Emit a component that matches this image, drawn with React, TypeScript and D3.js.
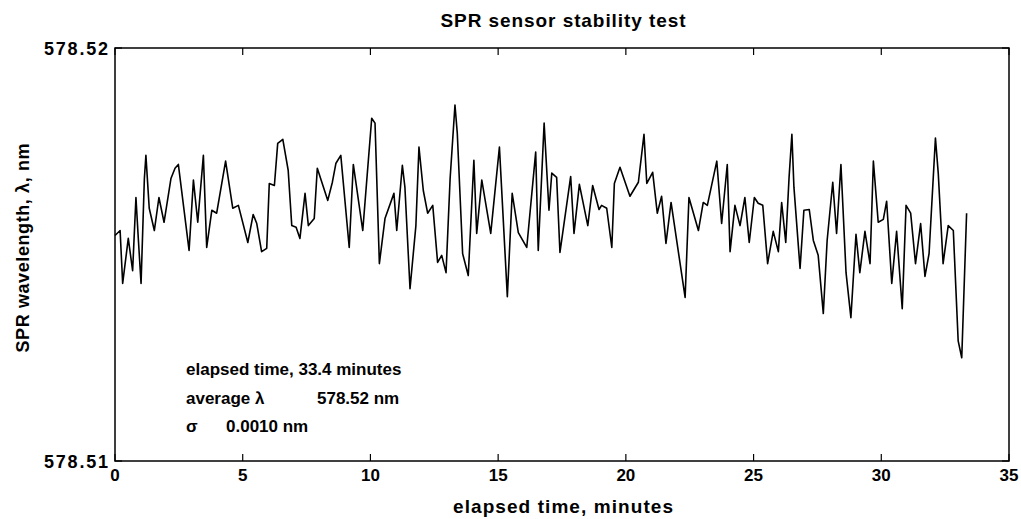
import React from "react";
import * as d3 from "d3";

const times: number[] = [
  0.0, 0.2, 0.3, 0.52, 0.69, 0.82, 0.91, 1.02, 1.15, 1.21, 1.34, 1.54, 1.72, 1.92, 2.19, 2.35, 2.48, 2.9, 3.07, 3.24,
  3.46, 3.59, 3.79, 3.98, 4.33, 4.61, 4.83, 5.2, 5.41, 5.55, 5.74, 5.94, 6.04, 6.24, 6.37, 6.57, 6.78, 6.92, 7.09, 7.24,
  7.44, 7.57, 7.8, 7.92, 8.33, 8.51, 8.65, 8.84, 9.17, 9.33, 9.7, 10.05, 10.18, 10.35, 10.57, 10.92, 11.03, 11.25, 11.35, 11.55,
  11.78, 11.9, 12.07, 12.24, 12.44, 12.63, 12.79, 12.96, 13.12, 13.31, 13.4, 13.61, 13.83, 14.05, 14.16, 14.36, 14.71, 15.05, 15.36, 15.55,
  15.79, 16.12, 16.47, 16.57, 16.8, 16.99, 17.1, 17.29, 17.42, 17.84, 17.97, 18.18, 18.51, 18.7, 18.95, 19.05, 19.25, 19.45, 19.55, 19.77,
  20.16, 20.49, 20.71, 20.82, 21.05, 21.23, 21.4, 21.57, 21.77, 22.32, 22.47, 22.84, 23.03, 23.19, 23.56, 23.75, 23.97, 24.08, 24.27, 24.47,
  24.66, 24.83, 25.03, 25.18, 25.36, 25.55, 25.77, 25.97, 26.1, 26.26, 26.39, 26.5, 26.58, 26.82, 26.97, 27.18, 27.34, 27.53, 27.73, 27.88,
  28.1, 28.25, 28.42, 28.62, 28.81, 29.01, 29.16, 29.36, 29.56, 29.69, 29.88, 30.08, 30.21, 30.41, 30.6, 30.82, 30.97, 31.15, 31.34, 31.54,
  31.71, 31.87, 32.12, 32.23, 32.42, 32.62, 32.82, 33.01, 33.15, 33.34,
];

const wavelengths: number[] = [
  578.51546, 578.51558, 578.5143, 578.51539, 578.51461, 578.51638, 578.51541, 578.5143, 578.51684, 578.5174,
  578.51612, 578.51558, 578.51638, 578.51578, 578.51684, 578.51709, 578.51718, 578.5151, 578.5168, 578.51578,
  578.5174, 578.51517, 578.51607, 578.516, 578.51726, 578.51612, 578.51619, 578.51529, 578.51597, 578.51575,
  578.51507, 578.51515, 578.51672, 578.51667, 578.51769, 578.51779, 578.51704, 578.5157, 578.51566, 578.51539,
  578.51648, 578.5157, 578.51587, 578.51709, 578.51631, 578.51675, 578.51721, 578.5174, 578.51517, 578.51718,
  578.51558, 578.5183, 578.51818, 578.51478, 578.51587, 578.51648, 578.51558, 578.51716, 578.51663, 578.51417,
  578.5157, 578.5176, 578.51655, 578.516, 578.51619, 578.51481, 578.51498, 578.51456, 578.51684, 578.51862,
  578.51794, 578.51502, 578.51449, 578.51728, 578.51551, 578.5168, 578.51551, 578.5176, 578.51398, 578.51648,
  578.51553, 578.51517, 578.51748, 578.5151, 578.51818, 578.51607, 578.51697, 578.51687, 578.51505, 578.51689,
  578.51551, 578.5167, 578.5157, 578.51667, 578.51609, 578.51619, 578.51612, 578.51517, 578.51672, 578.51711,
  578.51641, 578.51675, 578.51791, 578.51672, 578.51699, 578.516, 578.51641, 578.51527, 578.51626, 578.51396,
  578.51638, 578.51558, 578.51626, 578.51619, 578.51726, 578.51575, 578.51718, 578.51507, 578.51619, 578.5157,
  578.51638, 578.51529, 578.51638, 578.51624, 578.51619, 578.51478, 578.51556, 578.51507, 578.51626, 578.51529,
  578.51687, 578.51791, 578.51663, 578.51466, 578.51607, 578.51609, 578.51534, 578.51498, 578.51357, 578.51534,
  578.51675, 578.51551, 578.51718, 578.51456, 578.51347, 578.51549, 578.51456, 578.51556, 578.51478, 578.51726,
  578.51578, 578.51585, 578.51629, 578.5143, 578.51556, 578.51369, 578.51619, 578.516, 578.51478, 578.51575,
  578.51447, 578.51502, 578.51782, 578.51697, 578.51478, 578.5157, 578.51558, 578.51291, 578.5125, 578.516,
];

const xTicks: number[] = [0, 5, 10, 15, 20, 25, 30, 35];
const yTicks: number[] = [578.51, 578.52];
const yTickLabels: string[] = ["578.51", "578.52"];
const annotationLines: string[][] = [
  ["elapsed time, 33.4 minutes", ""],
  ["average \u03bb", "578.52 nm"],
  ["\u03c3", "0.0010 nm"],
];

const W = 1021;
const H = 519;
const left = 115;
const right = 1009;
const top = 48;
const bottom = 461;
const FONT = "'Liberation Sans', Arial, sans-serif";

export default function App() {
  const x = d3.scaleLinear().domain([0, 35]).range([left, right]);
  const y = d3.scaleLinear().domain([578.51, 578.52]).range([bottom, top]);
  const line = d3
    .line<number>()
    .x((_, i) => x(times[i]))
    .y((d) => y(d));
  const path = line(wavelengths) || "";
  const annY = [375, 403.5, 432];

  return (
    <svg
      width={W}
      height={H}
      style={{ position: "absolute", left: 0, top: 0, background: "#fff" }}
      fontFamily={FONT}
      fontWeight="bold"
    >
      <rect x={0} y={0} width={W} height={H} fill="#fff" />
      <text x={563} y={27} textAnchor="middle" fontSize={19} textLength={245} lengthAdjust="spacing">
        SPR sensor stability test
      </text>
      {/* frame */}
      <rect x={left} y={top} width={right - left} height={bottom - top} fill="none" stroke="#000" strokeWidth={1.5} />
      {/* x ticks */}
      {xTicks.map((t) => (
        <g key={"xt" + t}>
          <line x1={x(t)} x2={x(t)} y1={bottom} y2={bottom - 7} stroke="#000" strokeWidth={1.2} />
          <line x1={x(t)} x2={x(t)} y1={top} y2={top + 7} stroke="#000" strokeWidth={1.2} />
          <text x={x(t)} y={481} textAnchor="middle" fontSize={17}>
            {t}
          </text>
        </g>
      ))}
      {/* y ticks */}
      {yTicks.map((v, i) => (
        <g key={"yt" + i}>
          <line x1={left} x2={left + 7} y1={y(v)} y2={y(v)} stroke="#000" strokeWidth={1.2} />
          <line x1={right} x2={right - 7} y1={y(v)} y2={y(v)} stroke="#000" strokeWidth={1.2} />
          <text x={108} y={y(v) + 6.5} textAnchor="end" fontSize={18} textLength={64} lengthAdjust="spacing">
            {yTickLabels[i]}
          </text>
        </g>
      ))}
      {/* data line */}
      <path d={path} fill="none" stroke="#000" strokeWidth={1.6} strokeLinejoin="round" />
      {/* annotation */}
      {annotationLines.map((ln, i) => (
        <g key={"an" + i}>
          <text x={186} y={annY[i]} fontSize={17}>
            {ln[0]}
          </text>
          {ln[1] ? (
            <text x={i === 1 ? 317 : 226} y={annY[i]} fontSize={17}>
              {ln[1]}
            </text>
          ) : null}
        </g>
      ))}
      {/* axis labels */}
      <text x={563} y={513} textAnchor="middle" fontSize={19} textLength={220} lengthAdjust="spacing">
        elapsed time, minutes
      </text>
      <text
        transform="translate(29,248) rotate(-90)"
        textAnchor="middle"
        fontSize={18}
        textLength={209}
        lengthAdjust="spacing"
      >
        SPR wavelength, {"\u03bb"}, nm
      </text>
    </svg>
  );
}
